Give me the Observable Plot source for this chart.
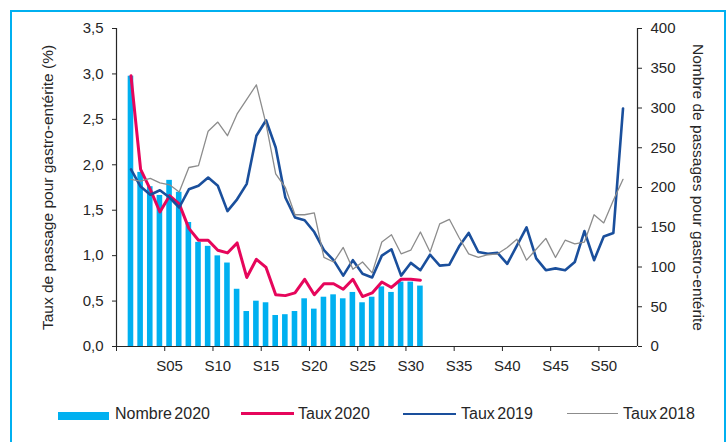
<!DOCTYPE html>
<html>
<head>
<meta charset="utf-8">
<script src="https://cdn.jsdelivr.net/npm/d3@7"></script>
<script src="https://cdn.jsdelivr.net/npm/@observablehq/plot@0.6"></script>
<style>
  body { margin: 0; background: #fff; font-family: "Liberation Sans", Arial, sans-serif; }
  #wrap { position: relative; width: 728px; height: 442px; overflow: hidden; background: #fff; }
  #border { position: absolute; left: 10px; top: 10px; width: 712px; height: 470px; border: 2px solid #00B0F0; }
  #chart { position: absolute; left: 0; top: 0; }
  #legend { position: absolute; left: 0; top: 395px; width: 728px; height: 47px; }
  .sw { position: absolute; }
  .lt { position: absolute; font-size: 16px; line-height: 16px; color: #262626; white-space: nowrap; word-spacing: -2px; }
</style>
</head>
<body>
<div id="wrap">
  <div id="border"></div>
  <div id="chart"></div>
  <div id="legend"></div>
</div>
<script>
// ---- data ----
const weeks = d3.range(1, 53); // S01..S52
const weeks2020 = d3.range(1, 32); // S01..S31

const nombre2020 = [340, 219, 201, 190, 209, 194, 156, 131, 126, 114, 105, 72, 44, 57, 55, 39,
  40, 44, 60, 47, 62, 65, 60, 68, 55, 62, 75, 68, 81, 81, 76];

const taux2020 = [2.98, 1.95, 1.73, 1.48, 1.66, 1.57, 1.30, 1.17, 1.17, 1.06, 1.03, 1.14, 0.76,
  0.96, 0.87, 0.57, 0.56, 0.59, 0.74, 0.57, 0.69, 0.69, 0.63, 0.74, 0.55, 0.59, 0.71, 0.65,
  0.74, 0.74, 0.73];

const taux2019 = [1.95, 1.76, 1.67, 1.72, 1.64, 1.53, 1.73, 1.77, 1.86, 1.77, 1.49, 1.62, 1.79,
  2.32, 2.49, 2.19, 1.64, 1.42, 1.39, 1.26, 1.06, 0.95, 0.78, 0.95, 0.80, 0.76, 1.00, 1.07,
  0.78, 0.92, 0.84, 1.01, 0.89, 0.90, 1.10, 1.25, 1.04, 1.02, 1.03, 0.91, 1.11, 1.31, 0.97,
  0.84, 0.86, 0.84, 0.93, 1.27, 0.95, 1.21, 1.25, 2.62];

const taux2018 = [1.84, 1.82, 1.85, 1.80, 1.78, 1.70, 1.97, 1.99, 2.37, 2.47, 2.32, 2.56, 2.72,
  2.88, 2.45, 1.90, 1.75, 1.45, 1.45, 1.47, 0.98, 0.93, 1.09, 0.85, 0.93, 0.81, 1.15, 1.23,
  1.02, 1.06, 1.26, 1.04, 1.35, 1.40, 1.20, 1.02, 0.98, 1.01, 1.02, 1.09, 1.18, 0.95, 1.07,
  1.19, 0.98, 1.17, 1.13, 1.15, 1.45, 1.36, 1.61, 1.84];

const xLabelWeeks = [5, 10, 15, 20, 25, 30, 35, 40, 45, 50];
const xLabels = ["S05", "S10", "S15", "S20", "S25", "S30", "S35", "S40", "S45", "S50"];
const yTicks = [0, 0.5, 1, 1.5, 2, 2.5, 3, 3.5];
const yTickLabels = ["0,0", "0,5", "1,0", "1,5", "2,0", "2,5", "3,0", "3,5"];
const nTicks = [0, 50, 100, 150, 200, 250, 300, 350, 400];
const nTickLabels = ["0", "50", "100", "150", "200", "250", "300", "350", "400"];

const leftTitle = "Taux de passage pour gastro-entérite (%)";
const rightTitle = "Nombre de passages pour gastro-entérite";
const seriesNames = ["Nombre 2020", "Taux 2020", "Taux 2019", "Taux 2018"];

// ---- styles ----
const cBar = "#00B0F0", cRed = "#E6065B", cBlue = "#1A4F9C", cGray = "#8C8C8C";
const axisColor = "#262626";

// right axis (0-400) mapped onto left axis (0-3.5)
const k = 3.5 / 400;

const bars = weeks2020.map((w, i) => ({week: w, nombre: nombre2020[i]}));
const s2020 = weeks2020.map((w, i) => ({week: w, taux: taux2020[i]}));
const s2019 = weeks.map((w, i) => ({week: w, taux: taux2019[i]}));
const s2018 = weeks.map((w, i) => ({week: w, taux: taux2018[i]}));

const xTickMarks = [-0.5].concat(xLabelWeeks.map(w => w - 0.5));
const nTickPos = nTicks.map(n => n * k);

const chart = Plot.plot({
  width: 728,
  height: 395,
  marginLeft: 116,
  marginRight: 91,
  marginTop: 28,
  marginBottom: 49,
  x: {domain: [-0.5, 53.5], label: null},
  y: {domain: [0, 3.5], label: null},
  style: {fontFamily: "'Liberation Sans', Arial, sans-serif", fontSize: "15px", color: axisColor, background: "transparent", overflow: "visible"},
  marks: [
    Plot.rectY(bars, {x1: d => d.week - 0.29, x2: d => d.week + 0.29, y1: 0, y2: d => d.nombre * k, fill: cBar}),
    Plot.line(s2020, {x: "week", y: "taux", stroke: cRed, strokeWidth: 3, strokeLinejoin: "round"}),
    Plot.line(s2019, {x: "week", y: "taux", stroke: cBlue, strokeWidth: 2.6, strokeLinejoin: "round"}),
    Plot.line(s2018, {x: "week", y: "taux", stroke: cGray, strokeWidth: 1.3, strokeLinejoin: "round"}),
    Plot.ruleX([-0.5], {stroke: axisColor, strokeWidth: 1.2}),
    Plot.ruleX([53.5], {stroke: axisColor, strokeWidth: 1.2}),
    Plot.ruleY([0], {stroke: axisColor, strokeWidth: 1.2}),
    Plot.axisY({anchor: "left", ticks: yTicks, tickSize: 4, tickPadding: 9, label: null,
      tickFormat: d => yTickLabels[yTicks.indexOf(d)], fontSize: 15}),
    Plot.axisY({anchor: "right", ticks: nTickPos, tickSize: 4, tickPadding: 9, label: null,
      tickFormat: d => nTickLabels[nTickPos.findIndex(p => Math.abs(p - d) < 1e-9)], fontSize: 15}),
    Plot.axisX({ticks: xTickMarks, tickSize: 5, tickFormat: () => "", label: null}),
    Plot.axisX({ticks: xLabelWeeks, tickSize: 0, tickPadding: 14, label: null,
      tickFormat: d => xLabels[xLabelWeeks.indexOf(d)], fontSize: 15}),
    Plot.text([leftTitle], {frameAnchor: "left", textAnchor: "middle", lineAnchor: "middle", dx: -68, rotate: -90, text: d => d, fontSize: 15.5, fill: axisColor}),
    Plot.text([rightTitle], {frameAnchor: "right", textAnchor: "middle", lineAnchor: "middle", dx: 60, rotate: 90, text: d => d, fontSize: 15.5, fill: axisColor})
  ]
});
document.getElementById("chart").appendChild(chart);

// ---- legend (HTML, below the SVG) ----
const legend = document.getElementById("legend");
const legendLayout = [
  {sw: {left: 58, top: 17, width: 51, height: 8, bg: cBar}, textLeft: 115},
  {sw: {left: 241, top: 17, width: 53, height: 3, bg: cRed}, textLeft: 298},
  {sw: {left: 403, top: 17.5, width: 53, height: 2.6, bg: cBlue}, textLeft: 461},
  {sw: {left: 567, top: 18, width: 51, height: 1.3, bg: cGray}, textLeft: 623}
];
seriesNames.forEach((name, i) => {
  const L = legendLayout[i];
  const s = document.createElement("div");
  s.className = "sw";
  s.style.left = L.sw.left + "px";
  s.style.top = L.sw.top + "px";
  s.style.width = L.sw.width + "px";
  s.style.height = L.sw.height + "px";
  s.style.background = L.sw.bg;
  legend.appendChild(s);
  const t = document.createElement("div");
  t.className = "lt";
  t.style.left = L.textLeft + "px";
  t.style.top = "10.5px";
  t.textContent = name;
  legend.appendChild(t);
});
</script>
</body>
</html>
